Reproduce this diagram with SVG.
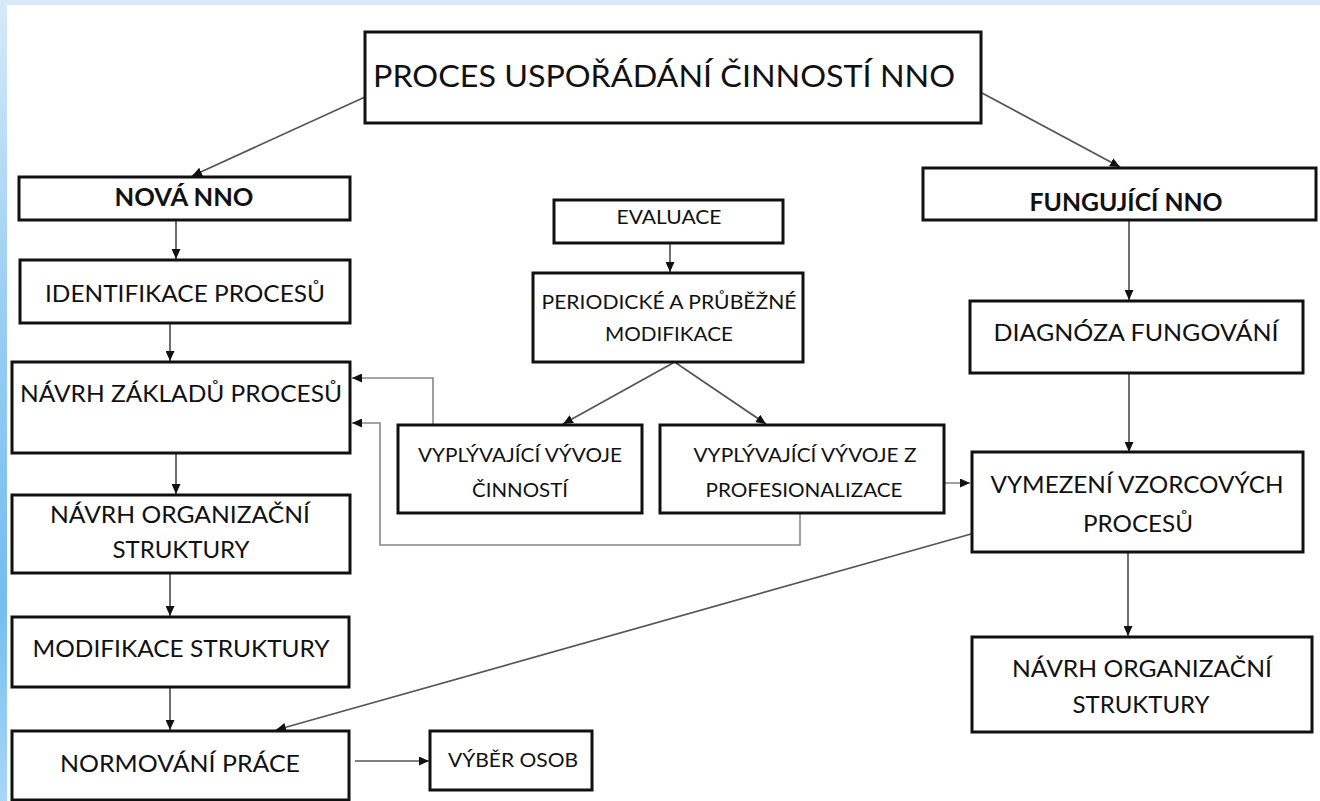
<svg xmlns="http://www.w3.org/2000/svg" width="1320" height="801" viewBox="0 0 1320 801">
<defs>
<linearGradient id="side" x1="0" y1="0" x2="0" y2="1">
<stop offset="0" stop-color="#d6eaf9"/>
<stop offset="0.35" stop-color="#9fd0f3"/>
<stop offset="0.75" stop-color="#74bdee"/>
<stop offset="1" stop-color="#a9d7f6"/>
</linearGradient>
<marker id="ah" markerUnits="userSpaceOnUse" markerWidth="10" markerHeight="9" refX="10" refY="4.5" orient="auto">
<path d="M0,0 L10,4.5 L0,9 z" fill="#111"/>
</marker>
<style>
.box{fill:#fff;stroke:#111;stroke-width:3}
.t{font-family:Lato,"Open Sans","Liberation Sans",sans-serif;fill:#111;text-anchor:middle;font-size:24px}
.b{font-weight:bold}
.s{font-size:20px}
.c{fill:none;stroke:#555;stroke-width:1.7}
.f{fill:none;stroke:#888;stroke-width:1.6}
</style>
</defs>
<rect x="0" y="0" width="1320" height="801" fill="#fff"/>
<rect x="0" y="0" width="1320" height="5" fill="#d6eaf9"/>
<rect x="0" y="0" width="7" height="801" fill="url(#side)"/>

<g id="connectors">
<line class="c" x1="365" y1="97" x2="192" y2="176" marker-end="url(#ah)"/>
<line class="c" x1="982" y1="93" x2="1120" y2="167" marker-end="url(#ah)"/>
<line class="c" x1="176" y1="221" x2="176" y2="259" marker-end="url(#ah)"/>
<line class="c" x1="170" y1="324" x2="170" y2="361" marker-end="url(#ah)"/>
<line class="c" x1="176" y1="454" x2="176" y2="494" marker-end="url(#ah)"/>
<line class="c" x1="170" y1="574" x2="170" y2="616" marker-end="url(#ah)"/>
<line class="c" x1="170" y1="688" x2="170" y2="730" marker-end="url(#ah)"/>
<line class="c" x1="355" y1="761" x2="429" y2="761" marker-end="url(#ah)"/>
<line class="c" x1="670" y1="244" x2="670" y2="272" marker-end="url(#ah)"/>
<line class="c" x1="673" y1="363" x2="563" y2="424" marker-end="url(#ah)"/>
<line class="c" x1="676" y1="363" x2="766" y2="424" marker-end="url(#ah)"/>
<polyline class="f" points="433,424 433,378 352,378" marker-end="url(#ah)"/>
<polyline class="f" points="800,514 800,545 380,545 380,423 352,423" marker-end="url(#ah)"/>
<line class="f" x1="945" y1="483" x2="970" y2="483" marker-end="url(#ah)"/>
<line class="c" x1="1129" y1="221" x2="1129" y2="300" marker-end="url(#ah)"/>
<line class="c" x1="1129" y1="374" x2="1129" y2="452" marker-end="url(#ah)"/>
<line class="c" x1="1128" y1="553" x2="1128" y2="636" marker-end="url(#ah)"/>
<line class="c" x1="971" y1="534" x2="276" y2="730" marker-end="url(#ah)"/>
</g>

<g id="title">
<rect class="box" x="365" y="32" width="616" height="91"/>
<text class="t" x="664" y="87" font-size="31" style="font-size:31px" textLength="582" lengthAdjust="spacingAndGlyphs">PROCES USPOŘÁDÁNÍ ČINNOSTÍ NNO</text>
</g>
<g id="nova">
<rect class="box" x="19" y="177" width="331" height="43"/>
<text class="t b" x="184" y="206" textLength="139" lengthAdjust="spacingAndGlyphs">NOVÁ NNO</text>
</g>
<g id="fungujici">
<rect class="box" x="923" y="168" width="393" height="52"/>
<text class="t b" x="1126" y="211" textLength="193" lengthAdjust="spacingAndGlyphs">FUNGUJÍCÍ NNO</text>
</g>
<g id="identifikace">
<rect class="box" x="20" y="260" width="330" height="63"/>
<text class="t" x="185" y="302" textLength="280" lengthAdjust="spacingAndGlyphs">IDENTIFIKACE PROCESŮ</text>
</g>
<g id="navrh-zakladu">
<rect class="box" x="12" y="362" width="338" height="91"/>
<text class="t" x="181" y="402" textLength="322" lengthAdjust="spacingAndGlyphs">NÁVRH ZÁKLADŮ PROCESŮ</text>
</g>
<g id="navrh-org-left">
<rect class="box" x="12" y="495" width="338" height="78"/>
<text class="t" x="180" y="523" textLength="260" lengthAdjust="spacingAndGlyphs">NÁVRH ORGANIZAČNÍ</text>
<text class="t" x="181" y="558" textLength="137" lengthAdjust="spacingAndGlyphs">STRUKTURY</text>
</g>
<g id="modifikace-struktury">
<rect class="box" x="12" y="617" width="337" height="70"/>
<text class="t" x="181" y="657" textLength="297" lengthAdjust="spacingAndGlyphs">MODIFIKACE STRUKTURY</text>
</g>
<g id="normovani">
<rect class="box" x="12" y="731" width="337" height="69"/>
<text class="t" x="180" y="772" textLength="240" lengthAdjust="spacingAndGlyphs">NORMOVÁNÍ PRÁCE</text>
</g>
<g id="vyber-osob">
<rect class="box" x="430" y="731" width="162" height="59"/>
<text class="t s" x="513" y="767" textLength="130" lengthAdjust="spacingAndGlyphs">VÝBĚR OSOB</text>
</g>
<g id="evaluace">
<rect class="box" x="554" y="200" width="229" height="43"/>
<text class="t s" x="669" y="224" textLength="105" lengthAdjust="spacingAndGlyphs">EVALUACE</text>
</g>
<g id="periodicke">
<rect class="box" x="533" y="273" width="270" height="89"/>
<text class="t s" x="669" y="309" textLength="255" lengthAdjust="spacingAndGlyphs">PERIODICKÉ A PRŮBĚŽNÉ</text>
<text class="t s" x="669" y="341" textLength="128" lengthAdjust="spacingAndGlyphs">MODIFIKACE</text>
</g>
<g id="vyvoj-cinnosti">
<rect class="box" x="398" y="425" width="244" height="88"/>
<text class="t s" x="520" y="462" textLength="204" lengthAdjust="spacingAndGlyphs">VYPLÝVAJÍCÍ VÝVOJE</text>
<text class="t s" x="520" y="497" textLength="96" lengthAdjust="spacingAndGlyphs">ČINNOSTÍ</text>
</g>
<g id="vyvoj-profesionalizace">
<rect class="box" x="660" y="425" width="284" height="88"/>
<text class="t s" x="805" y="462" textLength="223" lengthAdjust="spacingAndGlyphs">VYPLÝVAJÍCÍ VÝVOJE Z</text>
<text class="t s" x="804" y="497" textLength="197" lengthAdjust="spacingAndGlyphs">PROFESIONALIZACE</text>
</g>
<g id="diagnoza">
<rect class="box" x="970" y="301" width="333" height="72"/>
<text class="t" x="1136" y="341" textLength="285" lengthAdjust="spacingAndGlyphs">DIAGNÓZA FUNGOVÁNÍ</text>
</g>
<g id="vymezeni">
<rect class="box" x="972" y="452" width="331" height="100"/>
<text class="t" x="1137" y="493" textLength="293" lengthAdjust="spacingAndGlyphs">VYMEZENÍ VZORCOVÝCH</text>
<text class="t" x="1138" y="532" textLength="110" lengthAdjust="spacingAndGlyphs">PROCESŮ</text>
</g>
<g id="navrh-org-right">
<rect class="box" x="972" y="637" width="340" height="95"/>
<text class="t" x="1142" y="677" textLength="260" lengthAdjust="spacingAndGlyphs">NÁVRH ORGANIZAČNÍ</text>
<text class="t" x="1141" y="713" textLength="137" lengthAdjust="spacingAndGlyphs">STRUKTURY</text>
</g>
</svg>
